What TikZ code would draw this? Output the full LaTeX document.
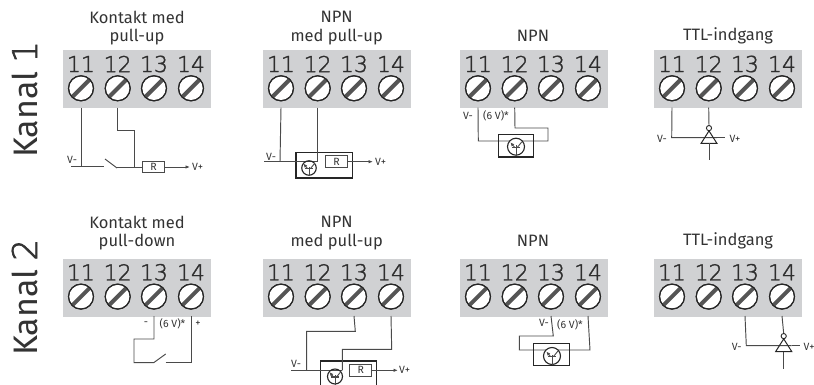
\documentclass[tikz,border=0pt]{standalone}
\usepackage{fontspec}
\setmainfont{Fira Sans}
\newfontfamily\digitfont[FakeBold=1.6]{DejaVu Sans ExtraLight}
\newfontfamily\chandigit[FakeBold=2.2]{DejaVu Sans ExtraLight}
\usetikzlibrary{arrows.meta,calc}
\definecolor{wire}{HTML}{4A4A4A}
\definecolor{ink}{HTML}{333333}
\definecolor{plate}{HTML}{D0D1D3}
\definecolor{slot}{HTML}{555555}
\tikzset{
  wirepath/.style={draw=wire,line width=0.95pt,line join=miter},
  plateb/.style={fill=plate,draw=none,minimum width=148pt,minimum height=58pt,inner sep=0pt,anchor=north west},
  screwb/.style={circle,draw=black!85,fill=white,line width=1.1pt,minimum size=25pt,inner sep=0pt},
  num/.style={font=\digitfont\fontsize{22}{22}\selectfont,text=ink!90!black,inner sep=0pt},
  titlet/.style={font=\fontsize{16.5}{18.5}\selectfont,text=ink,align=center,inner sep=0pt},
  chan/.style={font=\fontsize{34}{34}\selectfont,text=ink,rotate=90,inner sep=0pt},
  small/.style={font=\fontsize{10.5}{10.5}\selectfont,text=ink,inner sep=0pt},
  compbox/.style={draw=black!85,line width=1.1pt,fill=none,inner sep=0pt},
  rbox/.style={draw=wire,line width=1pt,fill=white,minimum width=22pt,minimum height=11.5pt,inner sep=0pt,font=\fontsize{10.5}{10.5}\selectfont,text=ink},
  tipend/.style={-{Latex[length=4.5pt,width=3.5pt]}},
  bubble/.style={circle,draw=black!85,line width=0.9pt,fill=white,minimum size=5.2pt,inner sep=0pt},
  circ/.style={circle,draw=black!85,line width=1.1pt,fill=white,inner sep=0pt},
}
% terminal block: #1 prefix, #2 left x, #3 top y
\newcommand{\termblock}[3]{%
  \node[plateb] (#1p) at (#2,#3) {};
  \foreach \i/\n/\dx in {1/11/18,2/12/54.7,3/13/91,4/14/128}{%
    \node[num] (#1n\i) at (#2+\dx,#3+14) {\n};
    \node[screwb] (#1s\i) at (#2+\dx,#3+38.3) {};
    \draw[line width=4pt,slot] ($(#1s\i)+(-8.6,8.6)$) -- ($(#1s\i)+(8.6,-8.6)$);
    \draw[line width=1.1pt,black!85] (#1s\i) circle (12.5);
    \coordinate (#1t\i) at (#2+\dx,#3+57.7);
  }%
}
% transistor: #1 node name
\newcommand{\npnsym}[1]{%
  \draw[wirepath,line width=0.9pt] (#1.south) -- ($(#1.center)!0.15!(#1.north)$);
  \draw[wirepath,line width=1.1pt] ($(#1.center)+(-3.6,0.5)$) -- ($(#1.center)+(3.6,0.5)$);
  \draw[wirepath,line width=0.9pt,-{Latex[length=4pt,width=3.5pt]}] ($(#1.center)+(-1.5,0.5)$) -- ($(#1.center)+(-5.6,-4.4)$);
  \draw[wirepath,line width=0.9pt] ($(#1.center)+(1.5,0.5)$) -- ($(#1.center)+(5.8,-4.8)$);
}
% inverter: #1 name, #2 x, #3 y of apex bubble top
\newcommand{\invsym}[3]{%
  \coordinate (#1a) at (#2,#3+5.4);
  \coordinate (#1l) at (#2-8,#3+18);
  \coordinate (#1r) at (#2+8,#3+18);
  \node[bubble] (#1b) at (#2,#3+2.6) {};
  \draw[line width=1pt,black!85,line join=miter] (#1a) -- (#1l) -- (#1r) -- cycle;
}
\begin{document}
\begin{tikzpicture}[x=1pt,y=-1pt]
\useasboundingbox (0,0) rectangle (814,385);
\clip (0,0) rectangle (814,385);

\node[chan] (k1) at (24.5,99.5) {Kanal {\chandigit 1}};
\node[chan] (k2) at (24.5,297.5) {Kanal {\chandigit 2}};

\termblock{a}{63}{50}
\termblock{b}{263}{50}
\termblock{c}{460}{50}
\termblock{d}{654}{50}
\termblock{e}{63}{258.3}
\termblock{f}{263}{258.3}
\termblock{g}{460}{258.3}
\termblock{h}{654}{258.3}

\node[titlet] (ta) at (137,28) {Kontakt med\\pull-up};
\node[titlet] (tb) at (336.7,28) {NPN\\med pull-up};
\node[titlet] (tc) at (533,36) {NPN};
\node[titlet] (td) at (728,36) {TTL-indgang};
\node[titlet] (te) at (137,233) {Kontakt med\\pull-down};
\node[titlet] (tf) at (336.7,233) {NPN\\med pull-up};
\node[titlet] (tg) at (533,241) {NPN};
\node[titlet] (th) at (728,241) {TTL-indgang};

% --- panel a
\coordinate (a1) at (81,166.3);
\coordinate (aL) at (71,166.3);
\coordinate (aS1) at (104,166.3);
\coordinate (aB1) at (105,159);
\coordinate (aB2) at (117,168);
\coordinate (aS2) at (117,167);
\coordinate (aJ) at (134.5,167);
\coordinate (aE) at (190,167);
\coordinate (aK) at (134.5,130.5);
\node[rbox] (aR) at (153.5,167) {R};
\draw[wirepath] (at1) -- (a1);
\draw[wirepath] (aL) -- (aS1);
\draw[wirepath] (aB1) -- (aB2);
\draw[wirepath] (aS2) -- (aR);
\draw[wirepath] (at2) |- (aK) -- (aJ);
\draw[wirepath,tipend] (aR) -- (aE);
\node[small,anchor=west] (aVm) at (67,159.5) {V-};
\node[small,anchor=west] (aVp) at (192,167) {V+};

% --- panel b
\node[compbox,minimum width=56.7pt,minimum height=25.3pt] (bBox) at (324.3,165.3) {};
\coordinate (bL) at (264,161.7);
\coordinate (b1) at (280,161.7);
\coordinate (bC) at (317.7,161.7);
\coordinate (bE) at (373,161.7);
\draw[wirepath] (bL) -- (bC);
\draw[wirepath] (bt1) -- (b1);
\draw[wirepath] (bt2) -- (bC);
\node[circ,minimum size=14.5pt,fill=none] (bT) at (309,168) {};
\npnsym{bT}
\node[rbox] (bR) at (336.5,161.7) {R};
\draw[wirepath,tipend] (bR) -- (bE);
\node[small,anchor=west] (bVm) at (266,156.5) {V-};
\node[small,anchor=west] (bVp) at (375,161.7) {V+};

% --- panel c
\coordinate (c1) at (478.3,141);
\coordinate (c2) at (548,141);
\coordinate (c3) at (548,128);
\coordinate (c4) at (515,128);
\draw[wirepath] (ct1) -- (c1) -- (c2) -- (c3) -- (c4) -- (ct2);
\node[compbox,minimum width=35.7pt,minimum height=22.3pt] (cBox) at (515.9,145.9) {};
\node[circ,minimum size=17pt] (cT) at (516,146.7) {};
\npnsym{cT}
\node[small] (cVm) at (468,115.5) {V-};
\node[small] (cV6) at (496,116) {(6 V)*};

% --- panel d
\coordinate (d1) at (671.7,137.7);
\coordinate (dR1) at (717,137.7);
\coordinate (dR2) at (725,137.7);
\coordinate (dB) at (709,160.5);
\coordinate (dTop) at (709,125.5);
\draw[wirepath] (dt1) -- (d1) -- (dR1);
\draw[wirepath] (dt2) -- (dTop);
\draw[wirepath] (dR1) -- (dR2);
\invsym{dI}{709}{125.5}
\draw[wirepath] (709,143.5) -- (dB);
\node[small] (dVm) at (662,139) {V-};
\node[small] (dVp) at (735,139) {V+};

% --- panel e
\coordinate (e1) at (154,339);
\coordinate (e2) at (134,339);
\coordinate (e3) at (134,362.7);
\coordinate (e4) at (153.7,362.7);
\coordinate (e5) at (165.7,354);
\coordinate (e6) at (165.7,362.7);
\coordinate (e7) at (191,362.7);
\draw[wirepath] (et3) -- (e1) -- (e2) -- (e3) -- (e4) -- (e5);
\draw[wirepath] (e6) -- (e7) -- (et4);
\node[small] (eVm) at (146,323.5) {-};
\node[small] (eV6) at (172.5,323.5) {(6 V)*};
\node[small] (eVp) at (198,323.5) {+};

% --- panel f
\node[compbox,minimum width=56.4pt,minimum height=30pt] (fBox) at (348.5,376) {};
\coordinate (f1) at (355.3,331.3);
\coordinate (f2) at (306.7,331.3);
\coordinate (f3) at (306.7,370.3);
\coordinate (f4) at (391.7,349.3);
\coordinate (f5) at (342.3,349.3);
\coordinate (f6) at (342.3,370.3);
\coordinate (fL) at (291,370.3);
\coordinate (fE) at (398,370.3);
\draw[wirepath] (ft3) -- (f1) -- (f2) -- (f3);
\draw[wirepath] (ft4) -- (f4) -- (f5) -- (f6);
\draw[wirepath] (fL) -- (f6);
\node[circ,minimum size=15pt,fill=none] (fT) at (335,376.5) {};
\npnsym{fT}
\node[rbox] (fR) at (360.8,370.3) {R};
\draw[wirepath,tipend] (fR) -- (fE);
\node[small,anchor=west] (fVm) at (291,364) {V-};
\node[small,anchor=west] (fVp) at (399,370.3) {V+};

% --- panel g
\coordinate (g1) at (553.3,336);
\coordinate (g2) at (519.3,336);
\coordinate (g3) at (519.3,350);
\coordinate (g4) at (590,350);
\draw[wirepath] (gt3) -- (g1) -- (g2) -- (g3) -- (g4) -- (gt4);
\node[compbox,minimum width=36pt,minimum height=22.4pt] (gBox) at (551.7,354.5) {};
\node[circ,minimum size=17pt] (gT) at (552,356) {};
\npnsym{gT}
\node[small] (gVm) at (544,323) {V-};
\node[small] (gV6) at (570,325) {(6 V)*};

% --- panel h
\coordinate (h1) at (746.3,345.7);
\coordinate (hR1) at (791.7,345.7);
\coordinate (hR2) at (800,345.7);
\coordinate (hB) at (783.7,368.5);
\coordinate (hTop) at (783.7,333.5);
\draw[wirepath] (ht3) -- (h1) -- (hR1);
\draw[wirepath] (ht4) -- (hTop);
\draw[wirepath] (hR1) -- (hR2);
\invsym{hI}{783.7}{333.5}
\draw[wirepath] (783.7,351.5) -- (hB);
\node[small] (hVm) at (736.7,347) {V-};
\node[small,anchor=west] (hVp) at (803.5,347) {V+};
\end{tikzpicture}
\end{document}
